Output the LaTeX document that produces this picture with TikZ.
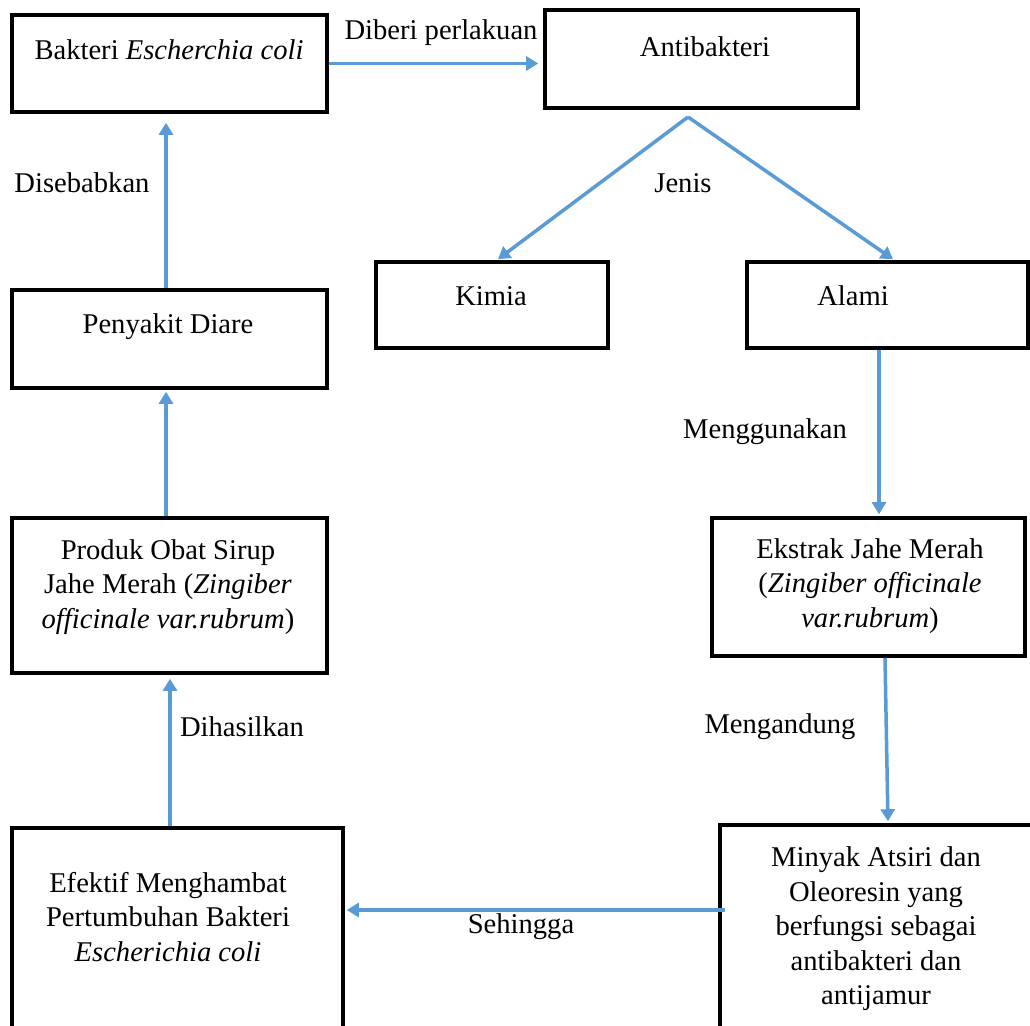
\documentclass[tikz,border=0pt]{standalone}
\usepackage{fontspec}
\setmainfont{Liberation Serif}
\usetikzlibrary{arrows.meta,calc}
\definecolor{arrowblue}{HTML}{5B9BD5}
\tikzset{
  box/.style={draw=black, line width=3.6pt, rectangle, inner sep=0pt},
  txt/.style={inner sep=0pt, align=center, font=\fontsize{28.6}{34.5}\selectfont},
  lbl/.style={inner sep=0pt, font=\fontsize{28.6}{34.5}\selectfont},
  conn/.style={draw=arrowblue, line width=3.5pt, -{Triangle[length=12pt,width=14pt]}}
}
\begin{document}
\begin{tikzpicture}[x=1pt,y=-1pt]
\useasboundingbox (0,0) rectangle (1030,1025);
\clip (0,0) rectangle (1030,1025);
\fill[white] (0,0) rectangle (1030,1025);
% boxes
\node[box, minimum width=315pt, minimum height=97pt] (bakteri) at (169.5,63.5) {};
\node[box, minimum width=313pt, minimum height=98pt] (antibakteri) at (701.5,59) {};
\node[box, minimum width=232pt, minimum height=86pt] (kimia) at (492,305) {};
\node[box, minimum width=281pt, minimum height=86pt] (alami) at (887.5,305) {};
\node[box, minimum width=315pt, minimum height=98pt] (penyakit) at (169.5,339) {};
\node[box, minimum width=315pt, minimum height=155pt] (produk) at (169.5,595.5) {};
\node[box, minimum width=313pt, minimum height=138pt] (ekstrak) at (868.5,587) {};
\node[box, minimum width=331pt, minimum height=212pt] (efektif) at (177.5,934) {};
\node[box, minimum width=315pt, minimum height=215pt] (minyak) at (877.5,932.5) {};
% texts
\node[txt] (bakteri-t) at (169,50) {Bakteri \textit{Escherchia coli}};
\node[txt] (antibakteri-t) at (705,47) {Antibakteri};
\node[txt] (kimia-t) at (491,296) {Kimia};
\node[txt] (alami-t) at (853,296) {Alami};
\node[txt] (penyakit-t) at (168,327) {Penyakit Diare};
\node[txt] (produk-t) at (168,587) {Produk Obat Sirup\\Jahe Merah (\textit{Zingiber}\\\textit{officinale var.rubrum})};
\node[txt] (ekstrak-t) at (870,586) {Ekstrak Jahe Merah\\(\textit{Zingiber officinale}\\\textit{var.rubrum})};
\node[txt] (efektif-t) at (168,917) {Efektif Menghambat\\Pertumbuhan Bakteri\\\textit{Escherichia coli}};
\node[txt] (minyak-t) at (876,929) {Minyak Atsiri dan\\Oleoresin yang\\berfungsi sebagai\\antibakteri dan\\antijamur};
% connectors
\coordinate (split) at (688,117);
\draw[conn, shorten >=5pt] (bakteri.east) -- (bakteri.east -| antibakteri.west);
\draw[conn] (split) -- ([xshift=6pt,yshift=1pt]kimia.north);
\draw[conn] (split) -- ([xshift=5.5pt,yshift=1pt]alami.north);
\draw[conn, shorten >=2pt] ([xshift=-8.5pt]alami.south) -- ([xshift=10.5pt]ekstrak.north);
\draw[conn, shorten >=2pt] ([xshift=16.5pt]ekstrak.south) -- ([xshift=10.5pt]minyak.north);
\draw[conn, shorten >=2pt] ([xshift=7pt,yshift=22.5pt]minyak.west) -- ([yshift=24pt]efektif.east);
\draw[conn, shorten >=4pt] ([xshift=-7.5pt]efektif.north) -- ([xshift=0.5pt]produk.south);
\draw[conn, shorten >=2pt] ([xshift=-3.5pt]produk.north) -- ([xshift=-3.5pt]penyakit.south);
\draw[conn, shorten >=9pt] ([xshift=-3.5pt]penyakit.north) -- ([xshift=-3.5pt]bakteri.south);
% connector labels
\node[lbl] (l-diberi) at (441,33) {Diberi perlakuan};
\node[lbl] (l-jenis) at (683,183) {Jenis};
\node[lbl] (l-mengg) at (765,432) {Menggunakan};
\node[lbl] (l-mengand) at (780,727) {Mengandung};
\node[lbl] (l-sehingga) at (521,927) {Sehingga};
\node[lbl] (l-dihasilkan) at (242,727) {Dihasilkan};
\node[lbl] (l-disebabkan) at (82,183) {Disebabkan};
\end{tikzpicture}
\end{document}
